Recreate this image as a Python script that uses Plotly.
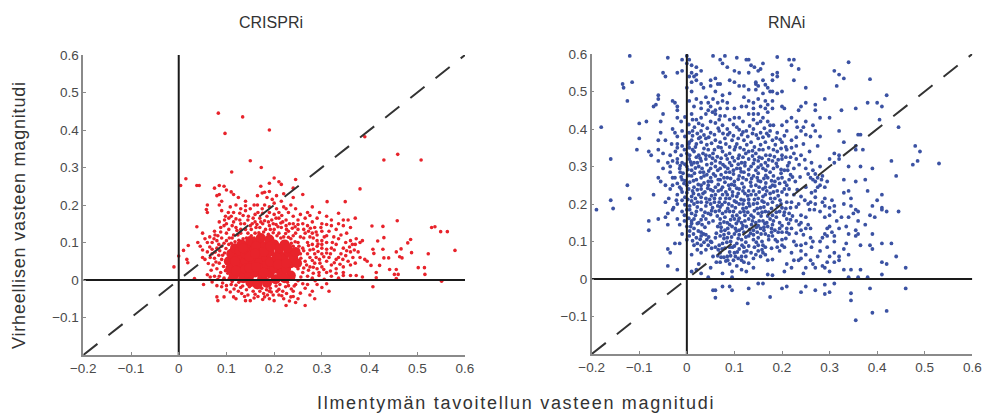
import plotly.graph_objects as go

crispri_sparse = [
(.083,.445),(.134,.435),(.19,.40),(.097,.391),(.15,.318),(.173,.30),(.111,.288),(.015,.27),(.004,.252),(.39,.382),
(.43,.32),(.459,.335),(.508,.32),(.38,.243),(.349,.209),(.311,.209),(.458,.158),(.405,.144),(.428,.143),(.53,.14),
(.537,.142),(.549,.129),(.563,.129),(.579,.079),(.523,.07),(.488,.073),(.486,.108),(.48,.099),(.466,.083),(.456,.075),
(.463,.062),(.468,.059),(.43,.113),(.417,.104),(.407,.082),(.409,.071),(.428,.082),(.43,.059),(.44,.059),(.403,.039),
(.421,.039),(.414,.02),(.414,.006),(.407,-.018),(.442,.028),(.456,.028),(.452,.015),(.46,.015),(.456,.004),(.502,.033),
(.515,.033),(.516,.015),(.551,-.003),(-.01,.035),(0,.064),(.01,.079),(.02,.092),(.017,.055),(.019,.046),(.038,.142),
(.038,.252),(.043,.252),(.033,.004),(.052,-.012),
(.2,.272),(.21,.262),(.215,.255),(.245,.268),(.19,.258),(.172,.25),(.075,.245),(.085,.252),(.095,.25),(.1,.24),
(.11,.235),(.115,.228),(.125,.22),(.08,.225),(.085,.228),(.175,.232),(.18,.234),(.19,.236),(.165,.225),(.185,.22),
(.26,.228),(.24,.245),(.22,.23),(.06,.2),(.058,.188),(.06,.18),(.085,.2),(.09,.185),(.115,.18),(.14,.21),
(.14,.198),(.15,.19),(.165,.2),(.18,.2),(.19,.195),(.2,.205),(.215,.21),(.22,.195),(.235,.2),(.245,.19),
(.28,.195),(.23,.18),(.21,.18),(.2,.175),(.13,.19),(.16,.175),(.27,.18),(.255,.175),(.11,.17),(.12,.163),
(.115,.155),(.135,.172),(.145,.16),(.13,.15),(.15,.145),(.17,.165),(.185,.17),(.195,.16),(.21,.165),(.225,.16),
(.24,.17),(.25,.16),(.265,.165),(.275,.172),(.28,.155),(.29,.165),(.3,.15),(.31,.148),(.32,.16),(.335,.178),
(.345,.16),(.355,.16),(.37,.165),(.345,.145),(.36,.14),(.33,.135),(.315,.13),(.3,.13),(.285,.14),(.27,.145),
(.26,.15),(.24,.15),(.225,.145),(.215,.14),(.12,.14),(.105,.135),(.095,.145),(.1,.125),(.115,.12),(.13,.125),
(.05,.125),(.055,.11),(.04,.1),(.045,.09),(.05,.08),(.065,.115),(.07,.1),(.065,.088),(.08,.105),(.09,.112),
(.06,.075),(.07,.07),(.05,.06),(.055,.055),(.075,.058),(.08,.085),(.09,.09),(.245,.125),(.255,.115),(.265,.125),
(.275,.115),(.29,.12),(.3,.105),(.31,.1),(.325,.115),(.335,.11),(.35,.1),(.36,.105),(.37,.095),(.38,.1),
(.385,.105),(.345,.085),(.33,.095),(.32,.085),(.3,.085),(.29,.09),(.28,.095),(.275,.08),(.285,.07),(.3,.07),
(.315,.06),(.33,.055),(.34,.07),(.36,.075),(.365,.06),(.38,.06),(.39,.055),(.395,.05),(.355,.05),(.36,.04),
(.345,.035),(.33,.03),(.32,.04),(.31,.05),(.295,.055),(.285,.045),(.275,.035),(.29,.03),(.3,.035),(.31,.02),
(.32,.01),(.335,.005),(.345,.012),(.36,.012),(.372,.012),(.385,.008),(.305,.002),(.31,-.01),(.3,-.02),(.29,-.012),
(.315,-.03),(.28,-.03),(.265,-.022),(.275,-.04),(.285,-.05),(.255,-.035),(.25,-.05),(.245,-.06),(.265,-.068),(.225,-.068),
(.235,-.045),(.24,-.03),(.22,-.05),(.21,-.04),(.2,-.055),(.19,-.05),(.18,-.045),(.17,-.03),(.15,-.055),(.14,-.055),
(.145,-.04),(.12,-.05),(.115,-.045),(.125,-.03),(.08,-.045),(.082,-.055),(.095,-.045),(.08,-.015),(.09,-.018),(.1,-.015),
(.11,-.012),(.13,-.02),(.07,-.005),(.075,.01),(.085,.01),(.095,.005),(.08,.03),(.085,.045),(.09,.055),(.072,.04),
(.098,.025),(.105,.095),(.27,.01),(.28,.005),(.265,.05),(.26,.085),(.25,.1),(.275,.06),(.26,-.01),(.245,-.012),
(.105,.165),(.09,.21),(.12,.2),(.16,.155),(.17,.14),(.19,.145),(.2,.135),(.23,.13),(.135,.11),(.145,.125),
(.16,.125),(.21,.125),(.22,.115),(.235,.11),(.24,.09),(.255,.07),(.25,.03),(.26,.02),(.24,.005),(.23,-.015),
(.21,-.025),(.19,-.03),(.085,.155),(.1,.15),(.075,.13),(.088,.128),(.29,.105),(.305,.115),(.32,.145),(.335,.15),
(.27,.1),(.28,.125),(.295,.18),(.31,.17),(.335,.06),(.35,.065),(.37,.045),(.345,.02),(.33,.018),(.225,.19),
]
crispri_mid = [
(.096,.072),(.099,.084),(.092,.066),(.101,.046),(.094,.036),(.103,.018),(.106,.004),(.112,-.004),(.12,-.014),(.126,-.006),
(.134,-.016),(.142,-.026),(.148,-.018),(.156,-.03),(.16,-.038),(.174,-.022),(.178,-.036),(.184,-.026),(.192,-.022),(.198,-.04),
(.204,-.016),(.212,-.012),(.218,-.03),(.224,-.018),(.228,-.006),(.236,-.024),(.242,-.016),(.25,-.002),(.256,.008),(.262,.032),
(.268,.04),(.256,.058),(.27,.07),(.262,.078),(.252,.09),(.244,.102),(.236,.098),(.23,.114),(.24,.118),(.224,.124),
(.214,.112),(.206,.118),(.198,.126),(.188,.122),(.178,.128),(.168,.126),(.158,.112),(.152,.118),(.142,.112),(.136,.098),
(.126,.106),(.118,.102),(.11,.098),(.106,.112),(.1,.105),(.095,.098),(.112,.112),(.124,.12),(.14,.135),(.152,.135),
(.162,.14),(.176,.15),(.182,.135),(.192,.135),(.204,.148),(.214,.152),(.226,.135),(.238,.138),(.25,.135),(.262,.112),
(.272,.092),(.282,.082),(.292,.076),(.288,.06),(.28,.052),(.272,.026),(.282,.018),(.294,.012),(.286,-.002),(.27,-.012),
(.076,.074),(.084,.066),(.078,.048),(.086,.078),(.07,.082),(.066,.06),(.062,.044),(.068,.026),(.06,.014),(.066,.008),
(.088,.02),(.082,.002),(.092,-.008),(.1,-.026),(.108,-.032),(.116,-.024),(.132,-.036),(.138,-.044),(.158,-.048),(.166,-.044),
(.176,-.052),(.186,-.04),(.194,-.032),(.206,-.03),(.216,-.042),(.226,-.036),(.232,-.056),(.24,-.044),(.154,.15),(.164,.148),
(.172,.155),(.18,.158),(.188,.155),(.198,.15),(.208,.142),(.218,.155),(.232,.15),(.244,.142),(.25,.148),(.262,.135),
(.272,.13),(.282,.112),(.292,.096),(.3,.095),(.31,.082),(.318,.07),(.326,.08),(.31,.072),(.304,.062),(.296,.045),
(.304,.028),(.294,.02),(.282,.034),(.318,.024),(.326,.046),(.338,.042),(.344,.055),(.352,.078),(.358,.088),(.368,.08),
(.376,.075),(.372,.11),(.364,.095),(.34,.12),(.352,.125),(.322,.1),(.31,.118),(.298,.14),(.288,.128),(.276,.138),
(.122,.132),(.112,.145),(.128,.16),(.138,.15),(.146,.17),(.156,.165),(.166,.18),(.176,.178),(.19,.18),(.204,.165),
(.216,.172),(.128,.178),(.14,.185),(.104,.18),(.098,.17),(.108,.195),(.074,.11),(.06,.1),(.084,.095),(.076,.12),
(.096,.16),(.088,.14),(.082,.118),(.13,.135),(.205,.19),(.175,.19),(.158,.2),(.196,.215),(.205,.225),(.24,.22),
]
crispri_core = [
(.105,.05),(.11,.07),(.108,.03),(.115,.01),(.118,.085),(.125,.06),(.125,.04),(.128,.078),(.13,.02),(.132,.095),
(.135,.005),(.14,.05),(.14,.07),(.14,.03),(.145,.088),(.148,.012),(.15,-.006),(.15,.104),(.155,.06),(.155,.04),
(.158,.08),(.16,.02),(.165,-.012),(.165,.1),(.17,.05),(.17,.07),(.17,.03),(.172,.112),(.175,.005),(.18,.09),
(.183,.06),(.185,.04),(.185,-.008),(.19,.108),(.19,.075),(.19,.018),(.2,.05),(.2,.095),(.2,.03),(.203,.002),
(.21,.07),(.21,.085),(.215,.04),(.215,.018),(.22,.06),(.222,.095),(.225,.03),(.23,.075),(.235,.045),(.235,.012),
(.24,.06),(.245,.075),(.248,.045),(.222,.005),(.118,.05),(.12,.025),(.135,.085),(.148,.062),(.148,.032),(.162,.09),
(.162,.035),(.178,.075),(.178,.02),(.192,.048),(.192,.09),(.205,.06),(.208,.042),(.225,.045),(.228,.085),(.16,.07),
]
rnai_points = [
(-.12,.595),(-.04,.59),(-.01,.585),(0,.595),(.005,.585),(.055,.595),(.07,.585),(.08,.595),(.105,.59),(.125,.585),(.13,.585),(.19,.592),(.215,.585),(.225,.585),
(0,.575),(.01,.57),(.02,.565),(.075,.575),(.085,.565),(.135,.57),(.16,.575),(.22,.57),(.34,.578),(.142,.565),(.155,.56),
(-.05,.55),(-.02,.55),(-.01,.555),(.01,.55),(.03,.555),(.1,.555),(.11,.55),(.13,.55),(.15,.555),(.19,.55),(.235,.56),(.31,.555),(.32,.545),(.18,.545),
(-.045,.54),(.015,.54),(.02,.53),(.05,.53),(.09,.53),(.10,.525),(.16,.53),(.18,.53),(.19,.54),(.33,.535),(.385,.533),(.145,.52),(.225,.53),
(-.135,.52),(-.115,.525),(-.133,.51),(0,.51),(.03,.52),(.05,.515),(.11,.515),(.145,.525),(.15,.515),(.165,.518),(.315,.515),(.07,.52),(.01,.50),(.06,.50),(.075,.49),(.09,.495),(.12,.485),(.16,.495),(.175,.5),(.19,.495),(.25,.51),(.2,.5),
(-.06,.49),(-.06,.48),(-.125,.475),(-.07,.46),(-.065,.465),(-.03,.475),(-.025,.47),(.02,.48),(.045,.47),(.05,.46),(.075,.475),(.085,.47),(.13,.475),(.14,.47),(.15,.48),(.165,.475),(.17,.465),(.18,.475),(.25,.47),(.27,.465),(.29,.48),(.38,.47),(.42,.49),(.355,.455),
(-.02,.46),(-.02,.45),(.03,.455),(.06,.45),(.1,.455),(.115,.46),(.125,.46),(.06,.44),(.07,.435),(.2,.46),(.205,.455),(.24,.46),(.27,.45),(.325,.45),(.41,.46),(.4,.47),(.235,.45),
(-.05,.44),(-.055,.42),(-.1,.415),(-.085,.42),(-.02,.43),(.01,.44),(.02,.425),(.03,.43),(.05,.42),(.09,.425),(.1,.43),(.11,.43),(.13,.44),(.14,.44),(.15,.44),(.16,.43),(.17,.42),(.2,.41),(.22,.43),(.23,.42),(.25,.42),(.265,.41),(.28,.43),(.3,.43),(.405,.425),
(-.18,.405),(-.055,.39),(-.03,.4),(-.025,.39),(-.02,.38),(-.01,.395),(.005,.39),(.03,.395),(.05,.39),(.075,.41),(.085,.4),(.09,.39),(.105,.405),(.115,.385),(.125,.395),(.14,.4),(.155,.39),(.175,.395),(.19,.39),(.21,.395),(.24,.395),(.25,.385),(.26,.38),(.27,.395),(.28,.38),(.32,.395),(.36,.385),(.365,.385),(.445,.405),
(-.1,.375),(-.06,.37),(-.045,.37),(-.02,.36),(-.01,.355),(-.02,.35),(-.035,.33),(.01,.37),(.02,.36),(.025,.375),(.04,.375),(.06,.37),(.07,.365),(.08,.375),(.095,.37),(.105,.36),(.12,.37),(.135,.365),(.15,.375),(.165,.365),(.18,.37),(.2,.365),(.22,.37),(.245,.36),(.275,.355),(.33,.365),(.355,.355),
(-.105,.345),(-.08,.34),(-.075,.33),(-.06,.345),(-.05,.335),(-.03,.315),(-.005,.345),(0,.335),(.015,.34),(.025,.33),(.045,.345),(.055,.335),(.075,.34),(.09,.335),(.1,.345),(.11,.33),(.13,.34),(.145,.335),(.16,.345),(.175,.33),(.19,.34),(.21,.345),(.225,.335),(.24,.33),(.31,.335),(.32,.33),(.355,.345),(.37,.345),(.48,.355),(.49,.34),
(-.16,.32),(-.06,.315),(-.035,.3),(-.02,.32),(-.01,.31),(.005,.32),(.015,.31),(.03,.315),(.04,.32),(.06,.315),(.07,.31),(.085,.32),(.1,.315),(.115,.31),(.13,.32),(.15,.315),(.165,.31),(.18,.315),(.2,.32),(.215,.31),(.23,.32),(.3,.32),(.31,.31),(.32,.32),(.43,.315),(.485,.315),(.475,.305),(.53,.308),
(-.05,.295),(-.035,.285),(-.015,.295),(0,.3),(.01,.29),(.025,.3),(.035,.285),(.05,.295),(.065,.29),(.08,.3),(.09,.285),(.105,.295),(.12,.285),(.135,.3),(.145,.29),(.16,.295),(.175,.285),(.19,.3),(.205,.29),(.225,.295),(.265,.29),(.28,.3),(.34,.3),(.365,.3),(.39,.295),(.27,.28),(.285,.275),
(-.06,.27),(-.055,.26),(-.045,.25),(-.025,.27),(-.01,.265),(.01,.275),(.02,.265),(.03,.27),(.045,.26),(.06,.275),(.07,.265),(.085,.27),(.1,.26),(.11,.275),(.125,.265),(.14,.275),(.155,.26),(.17,.27),(.185,.26),(.2,.27),(.215,.265),(.26,.27),(.27,.26),(.28,.25),(.295,.26),(.29,.245),(.33,.265),(.355,.26),(.375,.265),(.44,.275),
(-.125,.25),(-.035,.24),(-.03,.25),(-.015,.245),(0,.25),(.015,.245),(.03,.24),(.045,.25),(.055,.235),(.075,.245),(.09,.24),(.1,.25),(.12,.245),(.13,.235),(.145,.25),(.16,.24),(.175,.245),(.19,.235),(.215,.24),(.27,.235),(.33,.23),(.34,.235),(.38,.235),
(-.07,.225),(-.02,.225),(0,.23),(.01,.22),(.025,.225),(.04,.215),(.06,.225),(.07,.215),(.085,.225),(.105,.22),(.12,.21),(.135,.225),(.15,.215),(.165,.225),(.185,.215),(.225,.225),(.24,.22),(.26,.205),(.29,.215),(.305,.21),(.41,.225),(.4,.21),(.345,.215),(-.12,.215),
(-.16,.21),(-.045,.205),(-.02,.2),(-.01,.21),(.015,.2),(.03,.205),(.05,.2),(.065,.195),(.08,.205),(.095,.195),(.11,.2),(.125,.19),(.14,.2),(.155,.19),(.17,.2),(.19,.195),(.2,.19),(.21,.205),(.235,.2),(.27,.2),(.29,.195),(.31,.195),(.33,.2),(.345,.195),(.355,.185),(.39,.195),(.41,.19),
(-.19,.185),(-.155,.188),(-.04,.175),(-.03,.185),(0,.185),(.01,.175),(.03,.185),(.045,.175),(.06,.18),(.075,.175),(.09,.18),(.105,.17),(.12,.18),(.135,.17),(.15,.175),(.165,.18),(.18,.17),(.195,.18),(.215,.175),(.24,.17),(.31,.18),(.29,.165),(.36,.18),(.395,.165),(.42,.18),(.445,.18),(.41,.185),
(-.045,.165),(-.02,.16),(-.005,.17),(.015,.16),(.025,.15),(.04,.16),(.055,.155),(.07,.16),(.085,.15),(.1,.16),(.115,.15),(.13,.16),(.145,.15),(.16,.155),(.175,.16),(.195,.15),(.21,.16),(.23,.155),(.255,.145),(.325,.165),(.36,.155),(.375,.145),(.385,.17),
(-.08,.155),(-.06,.16),(-.04,.145),(0,.14),(.015,.135),(.03,.125),(.05,.1),(.065,.14),(.08,.13),(.095,.14),(.11,.13),(.125,.14),(.14,.13),(.155,.135),(.17,.14),(.185,.13),(.2,.125),(.22,.135),(.24,.13),(.3,.14),(.305,.125),(.31,.115),(.355,.13),
(-.08,.13),(.005,.115),(.02,.11),(.035,.12),(.07,.115),(.085,.11),(.1,.12),(.115,.105),(.13,.115),(.15,.11),(.165,.12),(.18,.115),(.2,.105),(.215,.12),(.26,.11),(.285,.11),(.29,.12),(.34,.12),(.39,.12),(.355,.115),(.36,.12),
(-.025,.095),(-.015,.095),(0,.105),(.015,.09),(.03,.09),(.045,.09),(.06,.085),(.075,.095),(.09,.085),(.105,.095),(.12,.085),(.15,.09),(.165,.085),(.19,.085),(.2,.09),(.24,.09),(.265,.1),(.28,.1),(.31,.1),(.335,.095),(.365,.09),(.41,.095),(.43,.095),(.295,.085),(.385,.09),
(-.04,.08),(-.035,.07),(.01,.065),(.03,.07),(.055,.06),(.07,.07),(.085,.06),(.1,.07),(.115,.06),(.135,.07),(.15,.075),(.165,.065),(.195,.075),(.22,.07),(.25,.065),(.24,.055),(.26,.05),(.31,.07),(.32,.06),(.34,.065),(.33,.08),(.39,.08),(.44,.06),(.42,.04),(.41,.045),(.295,.045),(.31,.045),(.32,.05),
(-.04,.035),(-.02,.025),(.025,.04),(.05,.03),(.07,.045),(.09,.04),(.105,.035),(.12,.045),(.14,.03),(.17,.05),(.21,.04),(.22,.03),(.25,.03),(.27,.03),(.285,.035),(.33,.025),(.345,.025),(.365,.025),(.46,.03),
(.01,.02),(.02,.025),(.03,.015),(.075,.015),(.095,.02),(.115,.025),(.125,.02),(.17,.012),(.18,.01),(.205,.02),(.245,.015),(.3,.02),(.34,.005),(.36,.005),(.38,.005),(.41,.012),(.045,.005),(.095,.005),
(.06,-.03),(.055,-.03),(.075,-.02),(.09,-.02),(.095,-.03),(.13,-.025),(.15,-.012),(.16,-.012),(.2,-.025),(.21,-.02),(.25,-.02),(.24,-.035),(.27,-.03),(.29,-.04),(.3,-.035),(.31,-.012),(.29,-.015),(.385,-.025),(.345,-.038),(.46,-.025),
(.06,-.05),(.175,-.048),(.128,-.065),(.345,-.057),(.355,-.11),(.39,-.09),(.42,-.085),
]
rnai_dense = [
(.004,.412),(.016,.405),(.033,.41),(.043,.402),(.06,.416),(.068,.395),(.098,.412),(.11,.398),(.132,.408),(.148,.415),(.163,.402),(.182,.41),
(-.004,.38),(.012,.382),(.022,.388),(.036,.384),(.046,.378),(.058,.385),(.076,.388),(.098,.382),(.108,.375),(.128,.38),(.146,.384),(.16,.378),(.172,.382),(.188,.376),(.205,.382),(.23,.378),
(.004,.36),(.018,.352),(.03,.365),(.042,.358),(.052,.362),(.066,.352),(.082,.36),(.09,.352),(.112,.35),(.126,.358),(.142,.352),(.155,.358),(.172,.35),(.186,.358),(.208,.352),(.23,.355),
(-.012,.33),(.006,.33),(.02,.325),(.034,.335),(.048,.328),(.064,.326),(.082,.33),(.096,.324),(.118,.325),(.124,.335),(.138,.328),(.152,.325),(.166,.33),(.184,.326),(.2,.33),(.218,.325),(.248,.318),
(-.014,.302),(-.004,.306),(.01,.305),(.022,.31),(.042,.305),(.052,.308),(.076,.305),(.094,.303),(.108,.306),(.122,.302),(.14,.308),(.156,.304),(.17,.302),(.188,.308),(.212,.302),(.236,.305),(.25,.295),
(-.008,.282),(.004,.276),(.016,.282),(.028,.285),(.042,.278),(.056,.28),(.072,.278),(.082,.285),(.098,.28),(.114,.286),(.13,.278),(.15,.282),(.166,.276),(.182,.275),(.198,.282),(.218,.278),(.238,.272),
(-.02,.255),(-.006,.255),(.006,.258),(.024,.252),(.036,.256),(.052,.26),(.066,.252),(.08,.258),(.094,.252),(.116,.255),(.134,.258),(.15,.262),(.166,.256),(.18,.25),(.195,.255),(.21,.25),(.228,.26),(.25,.245),
(-.01,.232),(.004,.24),(.022,.238),(.038,.232),(.05,.238),(.066,.235),(.082,.232),(.096,.232),(.11,.24),(.122,.228),(.14,.235),(.152,.232),(.168,.235),(.182,.232),(.2,.232),(.232,.238),
(.002,.212),(.018,.215),(.03,.218),(.048,.212),(.058,.215),(.075,.225),(.09,.215),(.1,.208),(.114,.212),(.13,.212),(.142,.212),(.158,.208),(.176,.215),(.196,.21),(.22,.205),(.248,.21),
(.006,.195),(.022,.192),(.04,.195),(.054,.19),(.07,.192),(.086,.188),(.102,.19),(.118,.188),(.132,.195),(.148,.188),(.162,.192),(.178,.188),(.208,.188),(.23,.192),(.258,.185),
(.004,.162),(.018,.17),(.034,.168),(.05,.172),(.064,.168),(.08,.165),(.096,.168),(.11,.162),(.122,.17),(.14,.165),(.156,.168),(.17,.168),(.188,.165),(.204,.17),(.222,.168),(.25,.165),
(.01,.148),(.032,.145),(.07,.148),(.09,.145),(.104,.148),(.118,.142),(.136,.145),(.15,.142),(.164,.148),(.18,.145),(.2,.142),(.214,.148),(.236,.145),(.26,.135),
(.006,.128),(.024,.128),(.04,.118),(.072,.128),(.088,.122),(.104,.128),(.12,.125),(.134,.122),(.148,.125),(.162,.13),(.178,.125),(.195,.135),(.21,.135),(.23,.122),
(.012,.102),(.028,.106),(.042,.105),(.06,.11),(.078,.108),(.092,.1),(.108,.108),(.124,.098),(.14,.105),(.158,.1),(.172,.105),(.19,.1),(.208,.108),(.225,.1),(.25,.095),
(.022,.078),(.04,.078),(.052,.082),(.066,.078),(.08,.082),(.096,.085),(.11,.08),(.126,.075),(.142,.085),(.158,.078),(.178,.082),(.205,.085),
(.065,.062),(.078,.058),(.092,.062),(.108,.055),(.124,.06),(.14,.055),(.155,.06),(.062,.045),(.082,.048),(.098,.05),(.13,.042),(.18,.052),
(-.012,.42),(-.004,.432),(.012,.425),(.025,.415),(.04,.44),(.054,.445),(.068,.425),(.08,.435),(.118,.42),(.14,.425),(.155,.42),(.175,.41),(.21,.42),(.232,.405),(.245,.405),
(.03,.47),(.04,.485),(.055,.48),(.065,.47),(.07,.455),(.045,.45),(.085,.455),(.14,.455),(.155,.46),(.165,.455),(.17,.445),(.18,.455),(.015,.46),(.005,.475),
(.01,.525),(.005,.54),(.02,.545),(.035,.51),(.06,.535),(.065,.52),(.12,.515),(.17,.51),(.18,.5),(.13,.505),(.145,.505),
(.258,.34),(.262,.31),(.255,.28),(.265,.265),(.275,.27),(.283,.265),(.275,.245),(.262,.23),(.27,.218),(.285,.205),(.28,.18),(.295,.135),(.295,.115),(.28,.075),(.3,.06),(.29,.03),
(.268,.185),(.255,.2),(.25,.135),(.245,.118),(.262,.085),(.275,.06),(.265,.04),(.24,.075),(.23,.09),(.235,.05),(.225,.05),(-.032,.36),(-.024,.34),(-.04,.31),(-.03,.27),(-.038,.215),(-.028,.19),(-.01,.18),(-.015,.145),(-.01,.12),
(.3,.19),(.3,.17),(.315,.155),(.32,.135),(.335,.14),(.34,.165),(.35,.175),
]
rnai_fill = [
(.012,.395),(.028,.378),(.066,.402),(.086,.385),(.118,.392),(.138,.388),(.168,.388),(.196,.372),(.012,.345),(.036,.348),(.058,.345),(.072,.35),(.102,.352),(.12,.345),(.138,.342),(.152,.345),(.182,.345),(.198,.348),(.22,.35),
(.008,.312),(.028,.322),(.04,.33),(.054,.322),(.072,.322),(.09,.31),(.108,.322),(.122,.31),(.142,.318),(.158,.322),(.172,.318),(.192,.318),(.208,.325),(.002,.292),(.018,.296),(.032,.295),(.046,.288),(.06,.3),(.07,.295),(.086,.295),(.098,.29),(.112,.295),(.13,.292),(.15,.298),(.166,.29),(.182,.295),(.198,.292),(.212,.29),
(-.012,.272),(.014,.262),(.036,.275),(.05,.27),(.066,.265),(.078,.27),(.092,.268),(.108,.266),(.118,.27),(.136,.268),(.148,.27),(.162,.268),(.178,.262),(.192,.268),(.206,.258),(.222,.272),(.012,.235),(.03,.25),(.044,.242),(.06,.245),(.072,.238),(.088,.25),(.105,.242),(.118,.235),(.135,.248),(.152,.245),(.165,.245),(.185,.248),(.205,.24),
(-.004,.218),(.014,.228),(.034,.228),(.052,.222),(.068,.205),(.082,.215),(.096,.222),(.108,.228),(.128,.222),(.145,.225),(.16,.22),(.175,.228),(.192,.222),(.21,.225),(-.004,.198),(.01,.208),(.022,.205),(.042,.205),(.058,.205),(.074,.198),(.088,.2),(.104,.205),(.118,.2),(.13,.202),(.148,.202),(.162,.205),(.18,.205),(.198,.2),(.218,.19),
(.006,.185),(.02,.18),(.038,.178),(.052,.182),(.068,.182),(.082,.18),(.098,.18),(.112,.178),(.128,.178),(.142,.182),(.158,.178),(.172,.178),(.188,.178),(.205,.178),(.01,.155),(.03,.158),(.046,.15),(.078,.152),(.092,.158),(.108,.155),(.122,.155),(.138,.155),(.152,.155),(.168,.15),(.182,.155),(.218,.158),(.24,.15),
(.008,.14),(.022,.148),(.038,.138),(.072,.138),(.086,.135),(.102,.135),(.116,.135),(.132,.132),(.146,.138),(.162,.138),(.178,.135),(.192,.125),(.21,.125),(.014,.12),(.03,.115),(.046,.112),(.062,.122),(.078,.118),(.094,.112),(.11,.118),(.124,.112),(.14,.118),(.156,.12),(.172,.115),(.186,.105),
(.022,.095),(.036,.098),(.052,.098),(.068,.09),(.084,.098),(.1,.088),(.116,.09),(.13,.088),(.146,.098),(.16,.09),(.074,.08),(.09,.072),(.106,.072),(.12,.072),(.072,.058),(.086,.05),(.102,.06),(.115,.05),(.145,.065),(.16,.07),
(.005,.35),(.005,.365),(-.004,.262),(-.014,.285),(-.02,.31),(-.012,.24),(-.022,.21),(-.005,.155),
]
x_ticks = [-.2,-.1,0,.1,.2,.3,.4,.5,.6]
x_labels = ["−0.2","−0.1","0","0.1","0.2","0.3","0.4","0.5","0.6"]
y_ticks = [-.1,0,.1,.2,.3,.4,.5,.6]
y_labels = ["−0.1","0","0.1","0.2","0.3","0.4","0.5","0.6"]
span = [-.2,.6]
zero = [0,0]

INK = "#1a1a1a"; TXT = "#4a4a4a"; AX = "#8a8a8a"; FONT = "Liberation Sans"
fig = go.Figure()
def xs(p): return [a for a,_ in p]
def ys(p): return [b for _,b in p]
def panel(suffix, sets):
    for pts, col, size in sets:
        fig.add_trace(go.Scatter(x=xs(pts), y=ys(pts), mode="markers", xaxis="x"+suffix, yaxis="y"+suffix,
                                 marker=dict(color=col, size=size, line_width=0), showlegend=False))
    fig.add_trace(go.Scatter(x=span, y=zero, mode="lines", xaxis="x"+suffix, yaxis="y"+suffix,
                             line=dict(color=INK, width=2), showlegend=False))
    fig.add_trace(go.Scatter(x=zero, y=span, mode="lines", xaxis="x"+suffix, yaxis="y"+suffix,
                             line=dict(color=INK, width=2), showlegend=False))
    fig.add_trace(go.Scatter(x=span, y=span, mode="lines", xaxis="x"+suffix, yaxis="y"+suffix,
                             line=dict(color="#333333", width=2, dash="18px,14px"), showlegend=False))

panel("", [(crispri_sparse, "#e8232b", 3.6), (crispri_mid, "#e8232b", 3.6), (crispri_core, "#e8232b", 10)])
panel("2", [(rnai_points, "#3b52a3", 3.8), (rnai_dense, "#3b52a3", 3.8), (rnai_fill, "#3b52a3", 3.8)])

W, H = 992, 417
def axes(x0, x1, ytop, ybot, anchor):
    xa = dict(domain=[x0/W, x1/W], range=span, tickvals=x_ticks, ticktext=x_labels, anchor=anchor,
              showgrid=False, zeroline=False, showline=True, linecolor=AX, linewidth=1.5,
              ticks="inside", ticklen=3, tickcolor=AX, tickfont=dict(family=FONT, size=13.5, color=TXT))
    ya = dict(domain=[1-ybot/H, 1-ytop/H], range=span, tickvals=y_ticks, ticktext=y_labels,
              showgrid=False, zeroline=False, showline=True, linecolor=AX, linewidth=1.5,
              ticks="inside", ticklen=3, tickcolor=AX, tickfont=dict(family=FONT, size=13.5, color=TXT))
    return xa, ya
xa1, ya1 = axes(83.3, 465, 55, 355, "y")
xa2, ya2 = axes(591.7, 972.3, 54, 354, "y2")
ya1["anchor"] = "x"; ya2["anchor"] = "x2"

def text(t, x, y, size, angle=0):
    return dict(text=t, x=x/W, y=1-y/H, xref="paper", yref="paper", showarrow=False, textangle=angle,
                font=dict(family=FONT, size=size, color="#333333"), xanchor="center", yanchor="middle")

fig.update_layout(width=W, height=H, margin=dict(l=0,r=0,t=0,b=0,autoexpand=False), paper_bgcolor="white", plot_bgcolor="white",
                  xaxis=xa1, yaxis=ya1, xaxis2=xa2, yaxis2=ya2, showlegend=False,
                  annotations=[text("CRISPRi",271,23,16), text("RNAi",786,22,16),
                               text("Ilmentymän tavoitellun vasteen magnitudi",516,403,18),
                               text("Virheellisen vasteen magnitudi",19,215,18,-90)])
fig.write_html("out.html", config=dict(displayModeBar=False), post_script="""
document.body.style.margin = '0';
var a = document.querySelectorAll('.annotation-text');
a[2].style.letterSpacing = '1.7px';
a[3].style.letterSpacing = '0.8px';
""")
